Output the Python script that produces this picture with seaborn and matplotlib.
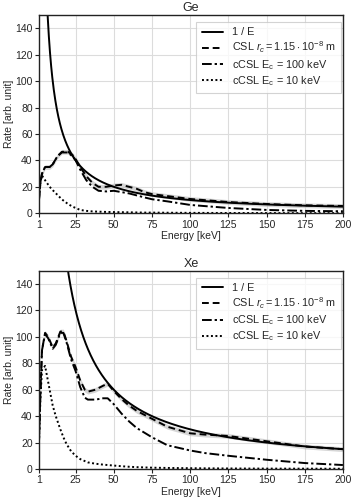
import numpy as np
import pandas as pd
import seaborn as sns
import matplotlib.pyplot as plt

# energies [keV] and rates
ge_E = [1, 2, 3, 5, 8, 10, 13, 16, 20, 23, 25, 28, 32, 36, 40, 45, 50, 55, 60, 65, 70, 75, 85, 100, 125, 150, 175, 200]
ge_csl = [10, 24, 30, 35, 35, 37, 43, 46.5, 46.5, 44, 41, 35, 28, 23, 20, 20, 21, 21.5, 20, 18.5, 16, 14.5, 13, 10.8, 8.5, 7, 6, 5.5]
ge_c100 = [10, 24, 30, 35, 35, 37, 43, 46, 46, 43, 40, 33, 25, 20, 17, 16.5, 17, 16, 15, 13.5, 12, 10.6, 9, 6.3, 4, 2.5, 1.8, 1.5]
ge_c10 = [12, 24, 28.5, 25, 20, 17.5, 14, 10.5, 7, 5, 4, 2.5, 1.8, 1.4, 1.2, 1, 0.9, 0.8, 0.7, 0.6, 0.5, 0.5, 0.4, 0.3, 0.2, 0.15, 0.1, 0.1]

xe_E = [1, 2, 3, 5, 7, 10, 12, 15, 17, 19, 22, 25, 28, 31, 33, 38, 43, 46, 50, 55, 60, 65, 75, 85, 100, 110, 125, 150, 175, 200]
xe_csl = [20, 60, 90, 103, 100, 92, 95, 104, 104, 97, 85, 77, 67, 60, 58.5, 60, 63, 64.5, 59, 53, 48, 44, 38, 32, 27, 26, 25, 21, 17, 15]
xe_c100 = [20, 60, 90, 102, 99, 91, 94, 103, 103, 96, 83, 74, 62, 54, 52.5, 52.5, 53.5, 53.5, 49, 42, 36, 31, 24, 18, 14, 12, 10, 7, 4.5, 3]
xe_c10 = [20, 55, 75, 78, 66, 48, 40, 30, 24, 19, 13.5, 10, 7.5, 6, 5, 4, 3.3, 3, 2.6, 2.1, 1.7, 1.4, 1.0, 0.8, 0.6, 0.5, 0.4, 0.3, 0.25, 0.2]

norm = {"Ge": 1000, "Xe": 3000}
labels = ["1 / E", r"CSL $r_c = 1.15 \cdot 10^{-8}$ m",
          r"cCSL E$_\mathrm{c}$ = 100 keV", r"cCSL E$_\mathrm{c}$ = 10 keV"]

sns.set_theme(style="whitegrid")
plt.rcParams["font.family"] = ["Liberation Sans", "DejaVu Sans"]
plt.rcParams["mathtext.fontset"] = "custom"
plt.rcParams["mathtext.rm"] = "Liberation Sans"
plt.rcParams["mathtext.it"] = "Liberation Sans:italic"
plt.rcParams["axes.edgecolor"] = "#222222"
plt.rcParams["grid.color"] = "#dcdcdc"
plt.rcParams["grid.linewidth"] = 0.8

fig, axes = plt.subplots(2, 1, figsize=(3.51, 5.0), dpi=100)
fig.subplots_adjust(left=0.111, right=0.977, top=0.97, bottom=0.062, hspace=0.29)

data = {"Ge": (ge_E, ge_csl, ge_c100, ge_c10), "Xe": (xe_E, xe_csl, xe_c100, xe_c10)}

for ax, (name, (E, csl, c100, c10)) in zip(axes, data.items()):
    e_fine = np.linspace(1, 200, 800)
    ax.plot(e_fine, norm[name] / e_fine, color="black", lw=1.4, label=labels[0])
    ax.fill_between(E, np.array(csl) - 1.8, np.array(csl) + 1.8, color="#bbbbbb", alpha=0.6, lw=0)
    sns.lineplot(x=E, y=csl, ax=ax, color="black", lw=1.4, linestyle=(0, (3.5, 2)), label=labels[1])
    sns.lineplot(x=E, y=c100, ax=ax, color="black", lw=1.4, linestyle=(0, (5, 1.5, 1.2, 1.5)), label=labels[2])
    sns.lineplot(x=E, y=c10, ax=ax, color="black", lw=1.4, linestyle=(0, (1, 1.3)), label=labels[3])
    ax.set_xlim(1, 200)
    ax.set_ylim(0, 150)
    ax.set_xticks([1, 25, 50, 75, 100, 125, 150, 175, 200])
    ax.set_yticks(range(0, 141, 20))
    ax.tick_params(labelsize=7.5, pad=1.5, length=3, width=0.8, left=True, bottom=True,
                   direction="out", color="#222222")
    ax.set_title(name, fontsize=9, pad=3)
    ax.set_xlabel("Energy [keV]", fontsize=7.5, labelpad=1)
    ax.set_ylabel("Rate [arb. unit]", fontsize=7.5, labelpad=1)
    for s in ax.spines.values():
        s.set_linewidth(1.0)
    leg = ax.legend(loc="upper right", bbox_to_anchor=(0.995, 0.965), fontsize=7.8, frameon=True,
                    fancybox=False, borderaxespad=0, handlelength=2.0, handletextpad=0.8,
                    labelspacing=0.22, borderpad=0.5)
    leg.get_frame().set_edgecolor("#c8c8c8")
    leg.get_frame().set_linewidth(0.8)

plt.savefig("out.png", dpi=100)
